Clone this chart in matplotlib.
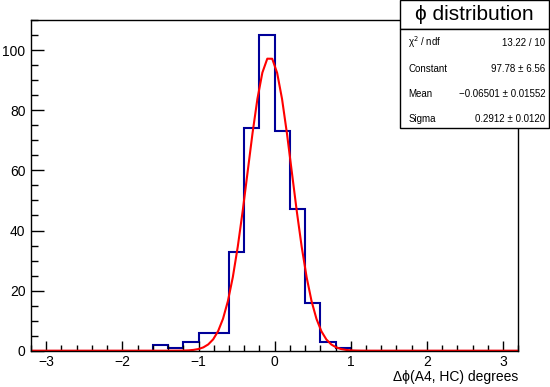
#!/usr/bin/env python3

import numpy as np
import matplotlib
matplotlib.use('Agg')
import matplotlib.pyplot as plt
from matplotlib.patches import Rectangle
from matplotlib.ticker import MultipleLocator

# histogram: 32 bins of 0.2 between -3.2 and 3.2
bin_edges = np.linspace(-3.2, 3.2, 33)
counts = np.zeros(32)
# non-empty bins, keyed by left edge
filled_left = [-1.6, -1.4, -1.2, -1.0, -0.8, -0.6, -0.4, -0.2, 0.0, 0.2, 0.4, 0.6, 0.8]
filled_counts = [2, 1, 3, 6, 6, 33, 74, 105, 73, 47, 16, 3, 1]
for left, c in zip(filled_left, filled_counts):
    counts[int(round((left + 3.2) / 0.2))] = c

# gaussian fit parameters (from the stats box)
fit_const = 97.78
fit_mean = -0.06501
fit_sigma = 0.2912
stat_names = ['\u03c7$^{2}$ / ndf', 'Constant', 'Mean', 'Sigma']
stat_values = ['13.22 / 10', '97.78 \u00b1 6.56',
               '\u22120.06501 \u00b1 0.01552', '0.2912 \u00b1 0.0120']

plt.rcParams['font.family'] = ['Liberation Sans', 'DejaVu Sans']

fig = plt.figure(figsize=(5.5, 3.87), dpi=100)
ax = fig.add_axes([0.0564, 0.0938, 0.886, 0.854])

ax.stairs(counts, bin_edges, color='#000099', linewidth=1.5)
xf = np.linspace(-3.2, 3.2, 100)
ax.plot(xf, fit_const * np.exp(-0.5 * ((xf - fit_mean) / fit_sigma) ** 2),
        color='#ff0000', linewidth=1.5)

ax.set_xlim(-3.2, 3.2)
ax.set_ylim(0, 110)
ax.xaxis.set_major_locator(MultipleLocator(1))
ax.xaxis.set_minor_locator(MultipleLocator(0.2))
ax.yaxis.set_major_locator(MultipleLocator(20))
ax.yaxis.set_minor_locator(MultipleLocator(5))
ax.tick_params(axis='x', which='major', direction='in', length=7.2, width=1, labelsize=10, pad=3)
ax.tick_params(axis='x', which='minor', direction='in', length=4, width=1)
ax.tick_params(axis='y', which='major', direction='in', length=9.6, width=1, labelsize=10, pad=4)
ax.tick_params(axis='y', which='minor', direction='in', length=4.8, width=1)
for s in ax.spines.values():
    s.set_linewidth(1)

ax.set_xlabel('\u0394\u03d5(A4, HC) degrees', fontsize=10, loc='right', labelpad=1)

# title box and stats box
fig.patches.append(Rectangle((0.727, 0.925), 0.271, 0.075, transform=fig.transFigure,
                             facecolor='white', edgecolor='black', linewidth=1, zorder=5))
fig.text(0.862, 0.962, '\u03d5 distribution', fontsize=15, ha='center', va='center', zorder=6)
fig.patches.append(Rectangle((0.727, 0.669), 0.271, 0.256, transform=fig.transFigure,
                             facecolor='white', edgecolor='black', linewidth=1, zorder=5))
row_y = [0.890, 0.822, 0.757, 0.692]
for name, val, y in zip(stat_names, stat_values, row_y):
    fig.text(0.742, y, name, fontsize=7, ha='left', va='center', zorder=6)
    fig.text(0.992, y, val, fontsize=7, ha='right', va='center', zorder=6)

fig.savefig('out.png', dpi=100)
